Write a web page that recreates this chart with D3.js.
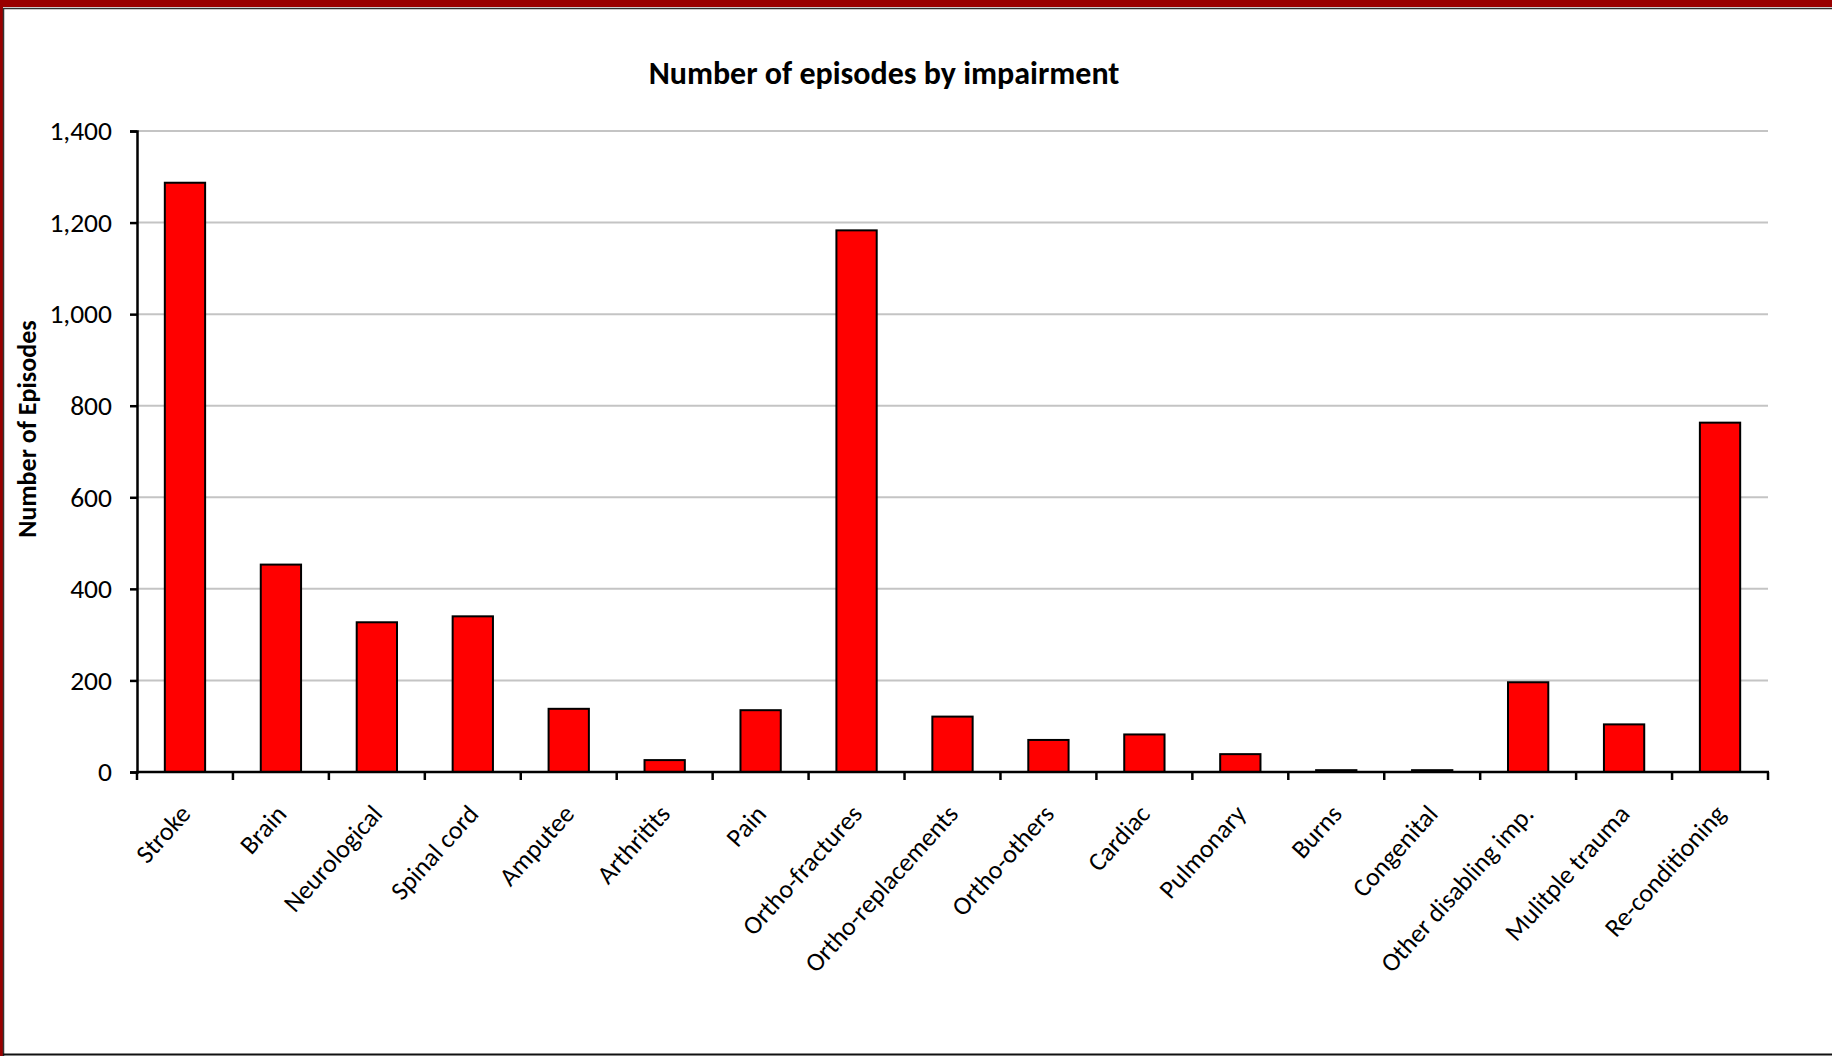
<!DOCTYPE html>
<html><head><meta charset="utf-8">
<script src="https://cdn.jsdelivr.net/npm/d3@7"></script>
<style>
html,body{margin:0;padding:0;background:#fff;overflow:hidden}
svg{display:block}
text{font-family:Carlito, Lato, "Open Sans", sans-serif;fill:#000}
</style></head>
<body>
<svg id="chart" width="1832" height="1056"></svg>
<script>
const categories = ["Stroke","Brain","Neurological","Spinal cord","Amputee","Arthritits","Pain","Ortho-fractures","Ortho-replacements","Ortho-others","Cardiac","Pulmonary","Burns","Congenital","Other disabling imp.","Mulitple trauma","Re-conditioning"];
const episodes = [1287,453,327,340,138,26,135,1183,121,70,82,39,4,4,196,104,763];
const yTicks = [0,200,400,600,800,1000,1200,1400];
const chartTitle = "Number of episodes by impairment";
const yTitle = "Number of Episodes";

const svg = d3.select("#chart");
const W = 1832, H = 1056;
const m = {left:137, right:1768, top:131, bottom:772};

// frame
svg.append("rect").attr("x",0).attr("y",0).attr("width",W).attr("height",7).attr("fill","#990000");
svg.append("rect").attr("x",0).attr("y",0).attr("width",3).attr("height",H).attr("fill","#990000");
svg.append("path").attr("d",`M3.5,${H+5} V8.5 H${W+5}`).attr("fill","none").attr("stroke","#333").attr("stroke-width",1.5);
svg.append("line").attr("x1",3).attr("x2",W).attr("y1",1054.5).attr("y2",1054.5).attr("stroke","#111").attr("stroke-width",2);

const x = d3.scaleBand().domain(categories).range([m.left,m.right]).paddingInner(0.58).paddingOuter(0.29);
const y = d3.scaleLinear().domain([0,1400]).range([m.bottom,m.top]);

// gridlines
svg.append("g").selectAll("line").data(yTicks.filter(d=>d>0)).join("line")
  .attr("x1",m.left).attr("x2",m.right)
  .attr("y1",d=>y(d)).attr("y2",d=>y(d))
  .attr("stroke","#c4c4c4").attr("stroke-width",2);

// bars
svg.append("g").selectAll("rect").data(categories).join("rect")
  .attr("x",d=>x(d)).attr("width",x.bandwidth())
  .attr("y",(d,i)=>y(episodes[i])).attr("height",(d,i)=>y(0)-y(episodes[i]))
  .attr("fill","#ff0000").attr("stroke","#000").attr("stroke-width",2);

// y axis
const yAxis = svg.append("g").attr("transform",`translate(${m.left},0)`)
  .call(d3.axisLeft(y).tickValues(yTicks).tickSize(7).tickPadding(18).tickFormat(d3.format(",")));
yAxis.select(".domain").attr("stroke","#000").attr("stroke-width",2.5);
yAxis.selectAll(".tick line").attr("stroke","#000").attr("stroke-width",2.5);
yAxis.selectAll("text").attr("font-size",27.5).attr("font-family","Carlito, Lato, sans-serif").attr("fill","#000");

// x axis
const xAxisG = svg.append("g").attr("transform",`translate(0,${m.bottom})`);
xAxisG.append("line").attr("x1",m.left-1).attr("x2",m.right+1).attr("y1",0).attr("y2",0).attr("stroke","#000").attr("stroke-width",2.5);
const step = x.step();
const bounds = d3.range(categories.length+1).map(i=>m.left+i*step);
xAxisG.selectAll("line.tk").data(bounds).join("line").attr("class","tk")
  .attr("x1",d=>d).attr("x2",d=>d).attr("y1",0).attr("y2",8).attr("stroke","#000").attr("stroke-width",2.5);
xAxisG.selectAll("text").data(categories).join("text")
  .attr("text-anchor","end")
  .attr("font-size",26)
  .attr("transform",d=>`translate(${x(d)+x.bandwidth()/2+7},${43}) rotate(-48)`)
  .text(d=>d);

// titles
svg.append("text").attr("x",884).attr("y",84).attr("text-anchor","middle")
  .attr("font-size",32).attr("font-weight","bold").text(chartTitle);
svg.append("text").attr("transform",`translate(36,429) rotate(-90)`).attr("text-anchor","middle")
  .attr("font-size",26).attr("font-weight","bold").text(yTitle);
</script>
</body></html>
